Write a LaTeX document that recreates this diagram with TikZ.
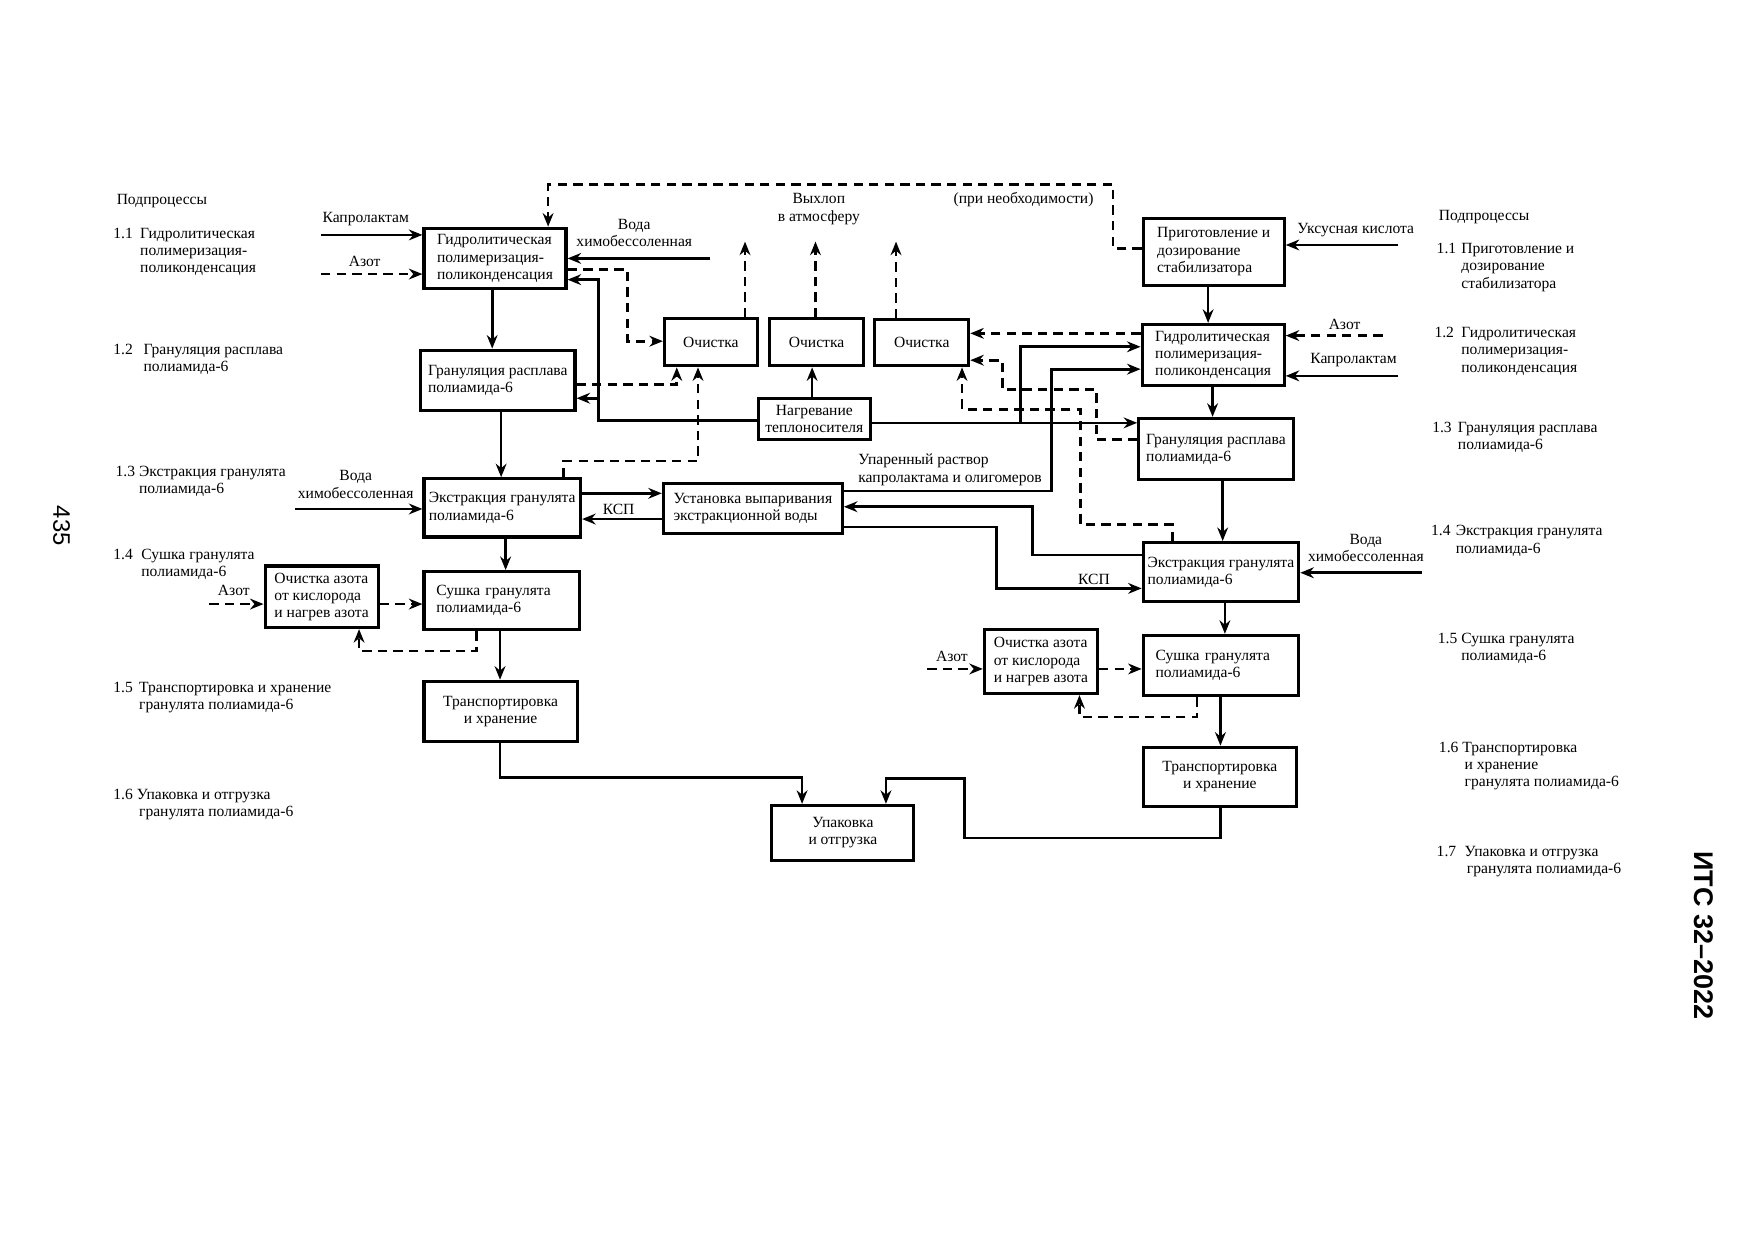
\documentclass[tikz,border=0pt]{standalone}
\usepackage{fontspec}
\setmainfont{Liberation Serif}
\newfontfamily\pagefont{Liberation Sans}
\usetikzlibrary{arrows.meta}
\newdimen\pxu
\pxu=0.018941cm
\begin{document}
\begin{tikzpicture}[x=0.018941cm, y=-0.018941cm,
    font=\fontsize{7.5}{8.3}\selectfont,
    blk/.style 2 args={draw, line width=1.5pt, inner sep=2pt, align=left,
      minimum width=#1\pxu, minimum height=#2\pxu},
    txt/.style={inner sep=0pt},
    lbl/.style={inner sep=0pt, anchor=west, align=left},
    ln/.style={line width=1.3pt},
    dsh/.style={line width=1.3pt, dash pattern=on 4.5pt off 3pt},
    arr/.style={-{Stealth[length=6.5pt,width=5.2pt]}}]
\useasboundingbox (0,0) rectangle (1568,1109);

\node[blk={127}{54}] (g1) at (442.5,231) {Гидролитическая\\полимеризация-\\поликонденсация};
\node[blk={138}{54}] (gr1) at (445,340) {Грануляция расплава\\полиамида-6};
\node[blk={140}{52}] (e1) at (449,454) {Экстракция гранулята\\полиамида-6};
\node[blk={139}{52}, text width=117\pxu] (s1) at (448.5,537) {Сушка гранулята\\полиамида-6};
\node[blk={101}{55}] (o1) at (287.5,533.5) {Очистка азота\\от кислорода\\и нагрев азота};
\node[blk={137}{54}, align=center] (t1) at (447.5,636) {Транспортировка\\и хранение};
\node[blk={127}{49}, align=center] (u) at (753.5,744.5) {Упаковка\\и отгрузка};
\node[blk={83}{42}] (c1) at (635.5,306) {Очистка};
\node[blk={84}{42}] (c2) at (730,306) {Очистка};
\node[blk={84}{41}] (c3) at (824,306.5) {Очистка};
\node[blk={100}{37}, align=center] (n) at (728,374.5) {Нагревание\\теплоносителя};
\node[blk={160}{45}] (v) at (673,454.5) {Установка выпаривания\\экстракционной воды};
\node[blk={126}{60}] (p) at (1085,225) {Приготовление и\\дозирование\\стабилизатора};
\node[blk={127}{55}] (g2) at (1084.5,317.5) {Гидролитическая\\полимеризация-\\поликонденсация};
\node[blk={138}{55}] (gr2) at (1087,401.5) {Грануляция расплава\\полиамида-6};
\node[blk={139}{53}] (e2) at (1091.5,511.5) {Экстракция гранулята\\полиамида-6};
\node[blk={139}{54}, text width=117\pxu] (s2) at (1091.5,595) {Сушка гранулята\\полиамида-6};
\node[blk={101}{57}] (o2) at (930.5,591.5) {Очистка азота\\от кислорода\\и нагрев азота};
\node[blk={137}{53}, align=center] (t2) at (1090.5,694.5) {Транспортировка\\и хранение};

\coordinate (kapL) at (287,210);
\coordinate (azL) at (287,245);
\coordinate (vodL) at (635,231);
\coordinate (vodL2) at (264,455);
\coordinate (azL2) at (187,540);
\coordinate (ex1) at (666,216);
\coordinate (ex2) at (729,216);
\coordinate (ex3) at (801,216);
\coordinate (uks) at (1250,219);
\coordinate (azR) at (1236,300);
\coordinate (kapR) at (1250,336);
\coordinate (vodR) at (1271,512);
\coordinate (azR2) at (829,598);

\draw[ln,arr] (kapL) -- (kapL -| g1.west);
\draw[dsh,arr] (azL) -- (azL -| g1.west);
\draw[ln,arr] (vodL) -- (vodL -| g1.east);
\draw[dsh,arr] (g1.east |- 0,241) -| (561,305) -- (c1.west |- 0,305);
\draw[ln,arr] (n.west |- 0,376) -| (535,250) -- (g1.east |- 0,250);
\draw[ln,arr] (535,356) -- (gr1.east |- 0,356);
\draw[dsh,arr] (gr1.east |- 0,344) -| (c1.south -| 605,0);
\draw[dsh,arr] (e1.north -| 504,0) |- (624,412) -- (c1.south -| 624,0);
\draw[ln,arr] (g1.south -| 440,0) -- (gr1.north -| 440,0);
\draw[ln,arr] (gr1.south -| 448,0) -- (e1.north -| 448,0);
\draw[ln,arr] (e1.south -| 452,0) -- (s1.north -| 452,0);
\draw[ln,arr] (s1.south -| 447,0) -- (t1.north -| 447,0);
\draw[ln,arr] (e1.east |- 0,441) -- (v.west |- 0,441);
\draw[ln,arr] (v.west |- 0,464) -- (e1.east |- 0,464);
\draw[ln,arr] (vodL2) -- (vodL2 -| e1.west);
\draw[dsh,arr] (azL2) -- (azL2 -| o1.west);
\draw[dsh,arr] (o1.east |- 0,540) -- (s1.west |- 0,540);
\draw[dsh,arr] (s1.south -| 426,0) |- (321,582) -- (o1.south -| 321,0);
\draw[ln,arr] (t1.south -| 447,0) |- (717,695) -- (u.north -| 717,0);
\draw[ln,arr] (t2.south -| 1091,0) |- (862,749) |- (792,696) -- (u.north -| 792,0);

\draw[dsh,arr] (c1.north -| ex1) -- (ex1);
\draw[dsh,arr] (c2.north -| ex2) -- (ex2);
\draw[dsh,arr] (c3.north -| ex3) -- (ex3);
\draw[ln,arr] (n.north -| 726,0) -- (c2.south -| 726,0);
\draw[ln,arr] (n.east |- 0,378) -- (gr2.west |- 0,378);
\draw[ln,arr] (912,378) |- (g2.west |- 0,310);
\draw[ln,arr] (v.east |- 0,439) -| (940,330) -- (g2.west |- 0,330);
\draw[ln,arr] (e2.west |- 0,496) -| (923,453) -- (v.east |- 0,453);
\draw[ln,arr] (v.east |- 0,471) -| (891,526) -- (e2.west |- 0,526);
\draw[dsh,arr] (g2.west |- 0,298) -- (c3.east |- 0,298);
\draw[dsh,arr] (gr2.west |- 0,393) -| (980,348) -| (896,322) -- (c3.east |- 0,322);
\draw[dsh,arr] (e2.north -| 1048,0) |- (966,469) |- (860,366) -- (c3.south -| 860,0);
\draw[dsh,arr] (p.west |- 0,222) -| (995,165) -| (g1.north -| 490,0);

\draw[ln,arr] (uks) -- (uks -| p.east);
\draw[ln,arr] (p.south -| 1080,0) -- (g2.north -| 1080,0);
\draw[dsh,arr] (azR) -- (azR -| g2.east);
\draw[ln,arr] (kapR) -- (kapR -| g2.east);
\draw[ln,arr] (g2.south -| 1084,0) -- (gr2.north -| 1084,0);
\draw[ln,arr] (gr2.south -| 1093,0) -- (e2.north -| 1093,0);
\draw[ln,arr] (vodR) -- (vodR -| e2.east);
\draw[ln,arr] (e2.south -| 1095,0) -- (s2.north -| 1095,0);
\draw[dsh,arr] (azR2) -- (azR2 -| o2.west);
\draw[dsh,arr] (o2.east |- 0,598) -- (s2.west |- 0,598);
\draw[dsh,arr] (s2.south -| 1070,0) |- (965,641) -- (o2.south -| 965,0);
\draw[ln,arr] (s2.south -| 1091,0) -- (t2.north -| 1091,0);

\node[txt] (kapLt) at (327,196) {Капролактам};
\node[txt] (azLt) at (326,234) {Азот};
\node[txt, align=center] (vodLt) at (567,208) {Вода\\химобессоленная};
\node[txt, align=center] (vodL2t) at (318,433) {Вода\\химобессоленная};
\node[txt] (azL2t) at (209,528) {Азот};
\node[txt] (ksp1) at (553,455) {КСП};
\node[txt, align=center] (exh) at (732,187) {Выхлоп\\в атмосферу};
\node[txt] (need) at (915,178) {(при необходимости)};
\node[lbl] (upar) at (767,420) {Упаренный раствор\\капролактама и олигомеров};
\node[txt] (ksp2) at (978,518) {КСП};
\node[txt] (ukst) at (1212,206) {Уксусная кислота};
\node[txt] (azRt) at (1202,290) {Азот};
\node[txt] (kapRt) at (1210,322) {Капролактам};
\node[txt, align=center] (vodRt) at (1221,490) {Вода\\химобессоленная};
\node[txt] (azR2t) at (851,587) {Азот};

\node[lbl] (subL) at (104,180) {Подпроцессы};
\node[lbl] (l11) at (101,225) {\makebox[24\pxu][l]{1.1}Гидролитическая\\\hspace*{24\pxu}полимеризация-\\\hspace*{24\pxu}поликонденсация};
\node[lbl] (l12) at (101,321.5) {\makebox[27\pxu][l]{1.2}Грануляция расплава\\\hspace*{27\pxu}полиамида-6};
\node[lbl] (l13) at (103,430.5) {\makebox[21\pxu][l]{1.3}Экстракция гранулята\\\hspace*{21\pxu}полиамида-6};
\node[lbl] (l14) at (101,504.5) {\makebox[25\pxu][l]{1.4}Сушка гранулята\\\hspace*{25\pxu}полиамида-6};
\node[lbl] (l15) at (101,623.5) {\makebox[23\pxu][l]{1.5}Транспортировка и хранение\\\hspace*{23\pxu}гранулята полиамида-6};
\node[lbl] (l16) at (101,719.5) {\makebox[21\pxu][l]{1.6}Упаковка и отгрузка\\\hspace*{23\pxu}гранулята полиамида-6};

\node[lbl] (subR) at (1286,194) {Подпроцессы};
\node[lbl] (r11) at (1284,239) {\makebox[22\pxu][l]{1.1}Приготовление и\\\hspace*{22\pxu}дозирование\\\hspace*{22\pxu}стабилизатора};
\node[lbl] (r12) at (1282,314) {\makebox[24\pxu][l]{1.2}Гидролитическая\\\hspace*{24\pxu}полимеризация-\\\hspace*{24\pxu}поликонденсация};
\node[lbl] (r13) at (1280,391) {\makebox[23\pxu][l]{1.3}Грануляция расплава\\\hspace*{23\pxu}полиамида-6};
\node[lbl] (r14) at (1279,483.5) {\makebox[22\pxu][l]{1.4}Экстракция гранулята\\\hspace*{22\pxu}полиамида-6};
\node[lbl] (r15) at (1285,579.5) {\makebox[21\pxu][l]{1.5}Сушка гранулята\\\hspace*{21\pxu}полиамида-6};
\node[lbl] (r16) at (1286,685) {\makebox[21\pxu][l]{1.6}Транспортировка\\\hspace*{23\pxu}и хранение\\\hspace*{23\pxu}гранулята полиамида-6};
\node[lbl] (r17) at (1284,770) {\makebox[25\pxu][l]{1.7}Упаковка и отгрузка\\\hspace*{27\pxu}гранулята полиамида-6};

\node[txt, rotate=-90, font=\pagefont\fontsize{11.5}{12}\selectfont] (pg) at (55,470) {435};
\node[txt, rotate=-90, font=\pagefont\bfseries\fontsize{13}{14}\selectfont] (its) at (1523,836) {ИТС 32–2022};
\end{tikzpicture}
\end{document}
